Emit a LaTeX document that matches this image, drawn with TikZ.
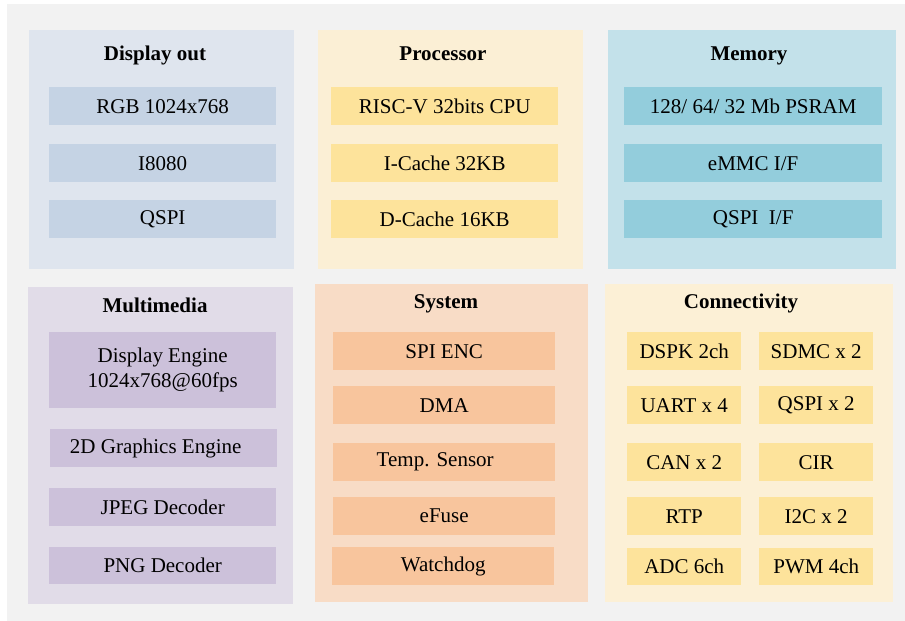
\documentclass[tikz,border=0pt]{standalone}
\usepackage{fontspec}
\setmainfont{Liberation Serif}
\definecolor{canvasgray}{HTML}{F2F2F2}
\definecolor{dispback}{HTML}{DFE5EE}
\definecolor{dispitem}{HTML}{C5D3E4}
\definecolor{procback}{HTML}{FBEFD5}
\definecolor{procitem}{HTML}{FDE39B}
\definecolor{memback}{HTML}{C3E1EA}
\definecolor{memitem}{HTML}{93CDDC}
\definecolor{mmback}{HTML}{E1DCE8}
\definecolor{mmitem}{HTML}{CCC1DA}
\definecolor{sysback}{HTML}{F8DCC6}
\definecolor{sysitem}{HTML}{F8C59D}
\definecolor{connback}{HTML}{FCF0D6}
\definecolor{connitem}{HTML}{FDE39B}
\tikzset{%
    every node/.style={rectangle, inner sep=0pt, anchor=north west,
    	font=\fontsize{21}{25}\selectfont},
    panel/.style={fill=#1},
    item/.style={fill=#1, align=center},
    title/.style={anchor=base, font=\fontsize{21}{25}\selectfont\bfseries},
    size/.style 2 args={minimum width=#1pt, minimum height=#2pt}
}

\begin{document}
\begin{tikzpicture}[x=1pt, y=-1pt]
  \useasboundingbox (0, 0) rectangle (905, 621);
  \node (canvas) [fill=canvasgray, size={898}{617}] at (7, 4) {};

  % top row
  \node (disp) [panel=dispback, size={265}{239}] at (29, 30) {};
  \node (proc) [panel=procback, size={265}{239}] at (318, 30) {};
  \node (mem) [panel=memback, size={288}{239}] at (608, 30) {};
  \node (dispT) [title] at (155, 60) {Display out};
  \node (procT) [title] at (443, 60) {Processor};
  \node (memT) [title] at (749, 60) {Memory};

  \node (rgb) [item=dispitem, size={227}{38}] at (49, 87) {RGB 1024x768};
  \node (i8080) [item=dispitem, size={227}{38}] at (49, 144) {I8080};
  \node (qspiD) [item=dispitem, size={227}{38}] at (49, 200) {QSPI};

  \node (cpu) [item=procitem, size={227}{38}] at (331, 87) {RISC-V 32bits CPU};
  \node (icache) [item=procitem, size={227}{38}] at (331, 144) {I-Cache 32KB};
  \node (dcache) [item=procitem, size={227}{38}] at (331, 200) {D-Cache 16KB};

  \node (psram) [item=memitem, size={258}{38}] at (624, 87) {128/ 64/ 32 Mb PSRAM};
  \node (emmc) [item=memitem, size={258}{38}] at (624, 144) {eMMC I/F};
  \node (qspiM) [item=memitem, size={258}{38}] at (624, 200) {QSPI\ \ I/F};

  % bottom row
  \node (mm) [panel=mmback, size={265}{317}] at (28, 287) {};
  \node (sys) [panel=sysback, size={273}{318}] at (315, 284) {};
  \node (conn) [panel=connback, size={288}{318}] at (605, 284) {};
  \node (mmT) [title] at (155, 312) {Multimedia};
  \node (sysT) [title] at (446, 308) {System};
  \node (connT) [title] at (741, 308) {Connectivity};

  \node (de) [item=mmitem, size={227}{76}] at (49, 332) {Display Engine\\1024x768@60fps};
  \node (g2d) [item=mmitem, size={227}{38}] at (50, 429) {2D Graphics Engine\hspace{16pt}};
  \node (jpeg) [item=mmitem, size={227}{38}] at (49, 488) {JPEG Decoder};
  \node (png) [item=mmitem, size={227}{37}] at (49, 547) {PNG Decoder};

  \node (spienc) [item=sysitem, size={222}{38}] at (333, 332) {SPI ENC};
  \node (dma) [item=sysitem, size={222}{38}] at (333, 386) {DMA};
  \node (temp) [item=sysitem, size={222}{38}] at (333, 443) {Temp. Sensor\hspace{18pt}};
  \node (efuse) [item=sysitem, size={222}{38}] at (333, 497) {eFuse};
  \node (wdog) [item=sysitem, size={222}{38}] at (332, 547) {Watchdog};

  \node (dspk) [item=connitem, size={114}{38}] at (627, 332) {DSPK 2ch};
  \node (sdmc) [item=connitem, size={114}{38}] at (759, 332) {SDMC x 2};
  \node (uart) [item=connitem, size={114}{38}] at (627, 386) {UART x 4};
  \node (qspiC) [item=connitem, size={114}{38}] at (759, 386) {QSPI x 2};
  \node (can) [item=connitem, size={114}{38}] at (627, 443) {CAN x 2};
  \node (cir) [item=connitem, size={114}{38}] at (759, 443) {CIR};
  \node (rtp) [item=connitem, size={114}{38}] at (627, 497) {RTP};
  \node (i2c) [item=connitem, size={114}{38}] at (759, 497) {I2C x 2};
  \node (adc) [item=connitem, size={114}{37}] at (627, 548) {ADC 6ch};
  \node (pwm) [item=connitem, size={114}{37}] at (759, 548) {PWM 4ch};
\end{tikzpicture}
\end{document}
